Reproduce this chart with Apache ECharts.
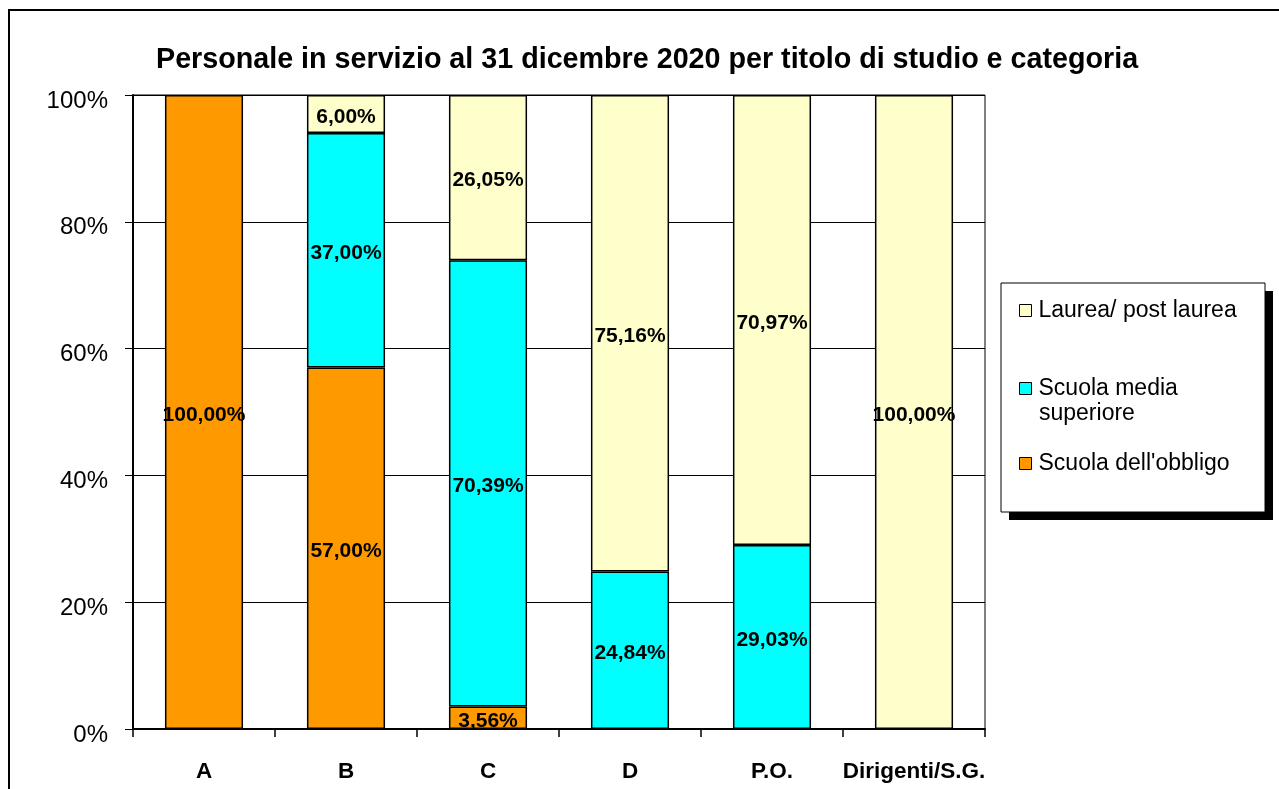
<!DOCTYPE html>
<html>
<head>
<meta charset="utf-8">
<script src="https://cdn.jsdelivr.net/npm/echarts@6/dist/echarts.min.js"></script>
<style>
html,body{margin:0;padding:0;background:#fff;}
#chart{width:1279px;height:789px;}
</style>
</head>
<body>
<div id="chart"></div>
<script>
var titleText = 'Personale in servizio al 31 dicembre 2020 per titolo di studio e categoria';
var categories = ['A', 'B', 'C', 'D', 'P.O.', 'Dirigenti/S.G.'];
var seriesNames = ['Scuola dell\'obbligo', 'Scuola media superiore', 'Laurea/post laurea'];
var obbligo = [100, 57, 3.56, 0, 0, 0];
var mediaSup = [0, 37, 70.39, 24.84, 29.03, 0];
var laurea = [0, 6, 26.05, 75.16, 70.97, 100];
var yTicks = [0, 20, 40, 60, 80, 100];

var colors = ['#FF9900', '#00FFFF', '#FFFFCC'];
var FONT = '"Liberation Sans", Arial, sans-serif';

function fmt(p) {
  return p.value > 0 ? '{v|' + p.value.toFixed(2).replace('.', ',') + '%}' : '';
}

function mkSeries(name, data, color) {
  return {
    name: name,
    type: 'bar',
    stack: 'tot',
    barWidth: '55%',
    data: data.map(function (v) { return v > 0 ? v : '-'; }),
    itemStyle: { color: color, borderColor: '#000', borderWidth: 1.5 },
    label: {
      show: true, position: 'inside', formatter: fmt,
      rich: { v: { color: '#000', fontWeight: 'bold', fontSize: 21, fontFamily: FONT, padding: [6, 0, 0, 0] } }
    },
    emphasis: { disabled: true }
  };
}

function mkLegend(name, top, text) {
  return {
    data: [name],
    orient: 'vertical',
    left: 1019,
    top: top,
    padding: 0,
    icon: 'rect',
    itemWidth: 12,
    itemHeight: 12,
    selectedMode: false,
    itemStyle: { borderColor: '#000', borderWidth: 1 },
    formatter: function () { return text; },
    textStyle: { color: '#000', fontSize: 23, fontFamily: FONT, padding: [0, 0, 0, 2] }
  };
}

var chart = echarts.init(document.getElementById('chart'), null, { renderer: 'canvas' });
chart.setOption({
  animation: false,
  backgroundColor: '#fff',
  title: {
    text: titleText,
    left: 151,
    top: 41,
    textStyle: { fontSize: 28.7, fontWeight: 'bold', color: '#000', fontFamily: FONT }
  },
  legend: [
    mkLegend(seriesNames[2], 299, 'Laurea/ post laurea'),
    mkLegend(seriesNames[1], 377, 'Scuola media'),
    mkLegend(seriesNames[0], 452, 'Scuola dell\'obbligo')
  ],
  grid: {
    left: 133, right: 294, top: 95, bottom: 60,
    show: true, borderColor: '#000', borderWidth: 1, backgroundColor: 'transparent'
  },
  xAxis: {
    type: 'category',
    data: categories,
    axisLine: { lineStyle: { color: '#000', width: 2 } },
    axisTick: { show: true, interval: 0, length: 8, lineStyle: { color: '#000', width: 1.5 } },
    axisLabel: { interval: 0, color: '#000', fontWeight: 'bold', fontSize: 22.5, fontFamily: FONT, margin: 31 }
  },
  yAxis: {
    type: 'value',
    min: yTicks[0],
    max: yTicks[yTicks.length - 1],
    interval: yTicks[1] - yTicks[0],
    axisLine: { show: true, lineStyle: { color: '#000', width: 2 } },
    axisTick: { show: true, length: 8, lineStyle: { color: '#000', width: 1 } },
    splitLine: { show: true, lineStyle: { color: '#000', width: 1 } },
    axisLabel: {
      margin: 25,
      formatter: '{a|{value}%}',
      rich: { a: { color: '#000', fontSize: 24, fontFamily: FONT, padding: [12, 0, 0, 0] } }
    }
  },
  graphic: [
    { type: 'rect', z: -10, shape: { x: 9, y: 10, width: 1400, height: 1000 }, style: { fill: 'none', stroke: '#000', lineWidth: 2 } },
    { type: 'rect', z: 0, shape: { x: 1009, y: 291, width: 264, height: 229 }, style: { fill: '#000' } },
    { type: 'rect', z: 1, shape: { x: 1001, y: 283, width: 264, height: 229 }, style: { fill: '#fff', stroke: '#000', lineWidth: 1 } },
    { type: 'text', z: 2, left: 1039, top: 402, style: { text: 'superiore', fill: '#000', fontSize: 23, fontFamily: FONT } }
  ],
  series: [
    mkSeries(seriesNames[0], obbligo, colors[0]),
    mkSeries(seriesNames[1], mediaSup, colors[1]),
    mkSeries(seriesNames[2], laurea, colors[2])
  ]
});
</script>
</body>
</html>
